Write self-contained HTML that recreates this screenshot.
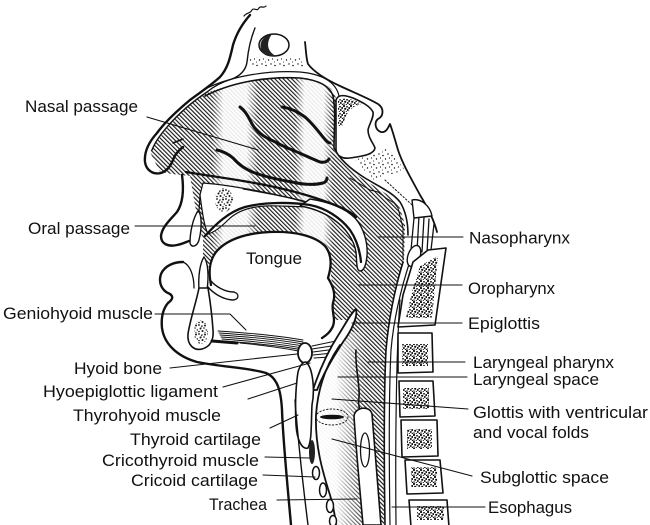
<!DOCTYPE html>
<html><head><meta charset="utf-8"><style>
html,body{margin:0;padding:0;background:#fff;}
svg{display:block;}
text{font-family:"Liberation Sans",Arial,sans-serif;font-size:16.5px;fill:#111;}
</style></head><body>
<svg width="650" height="525" viewBox="0 0 650 525" xmlns="http://www.w3.org/2000/svg">
<defs>
<pattern id="ht" patternUnits="userSpaceOnUse" width="3" height="3" patternTransform="rotate(-45)"><rect x="0" y="0" width="1.15" height="3" fill="#1a1a1a"/></pattern>
<pattern id="st" patternUnits="userSpaceOnUse" width="9" height="9"><circle cx="1" cy="1" r="0.7" fill="#111"/><circle cx="5" cy="2.5" r="0.8" fill="#111"/><circle cx="2.5" cy="5" r="0.6" fill="#111"/><circle cx="7.5" cy="6" r="0.7" fill="#111"/><circle cx="4.5" cy="8" r="0.5" fill="#111"/></pattern>
<pattern id="sd" patternUnits="userSpaceOnUse" width="9" height="9"><circle cx="1" cy="1" r="0.9" fill="#111"/><circle cx="4" cy="2" r="0.7" fill="#111"/><circle cx="7" cy="1.5" r="1" fill="#111"/><circle cx="2.5" cy="4.5" r="1" fill="#111"/><circle cx="6" cy="4" r="0.8" fill="#111"/><circle cx="8.3" cy="6" r="0.7" fill="#111"/><circle cx="1" cy="7.5" r="0.8" fill="#111"/><circle cx="4.5" cy="7" r="1" fill="#111"/><circle cx="7" cy="8.5" r="0.6" fill="#111"/><circle cx="3.3" cy="2.9" r="0.5" fill="#111"/></pattern>
<pattern id="sv" patternUnits="userSpaceOnUse" width="7" height="7"><circle cx="1" cy="1" r="1.1" fill="#111"/><circle cx="4" cy="1.8" r="0.9" fill="#111"/><circle cx="6.2" cy="3" r="1" fill="#111"/><circle cx="2.2" cy="3.8" r="1.1" fill="#111"/><circle cx="4.8" cy="5" r="1" fill="#111"/><circle cx="1" cy="6" r="0.8" fill="#111"/><circle cx="6.5" cy="6.5" r="0.7" fill="#111"/><circle cx="3.3" cy="6.6" r="0.6" fill="#111"/></pattern>
<linearGradient id="bandg" x1="0" x2="1" y1="0" y2="0">
<stop offset="0" stop-color="#fff" stop-opacity="0"/><stop offset="0.25" stop-color="#fff" stop-opacity="0.9"/><stop offset="0.75" stop-color="#fff" stop-opacity="0.9"/><stop offset="1" stop-color="#fff" stop-opacity="0"/></linearGradient>
<linearGradient id="larg" x1="0" x2="1" y1="0" y2="0">
<stop offset="0" stop-color="#fff" stop-opacity="1"/><stop offset="0.55" stop-color="#fff" stop-opacity="0.95"/><stop offset="1" stop-color="#fff" stop-opacity="0"/></linearGradient>
</defs>

<path fill="url(#ht)" d="M150,152 C158,138 175,118 195,100 L207,93 C240,78 290,74 323,83 C333,88 337,95 336,105 L334,150 C340,162 352,172 368,182 L388,195 L400,208 L405,225 L404,262 C396,285 388,320 385,360 L384,525 L337,525 C330,500 318,470 315,435 C314,400 320,370 338,340 L350,320 L332,320 L333,290 C330,270 330,255 320,245 C305,236 285,232 265,232 C240,233 222,242 213,255 L208,268 L203,262 L203,240 L198,222 L190,176 L172,174 L160,172 Z"/>
<rect x="212" y="70" width="46" height="195" fill="url(#bandg)"/>
<rect x="295" y="70" width="38" height="180" fill="url(#bandg)"/>
<rect x="300" y="332" width="66" height="193" fill="url(#larg)"/>

<g fill="none" stroke="#111" stroke-linecap="round" stroke-linejoin="round">
<path stroke-width="1.2" d="M244,16 C247,12 250,14 252,10 C254,7 257,12 259,8 C261,5 263,9 266,6"/>
<path stroke-width="2.4" d="M250,15 C242,24 236,35 233,45 C230,58 228,68 220,77 C210,86 198,94 190,100 C178,110 165,122 157,133 C148,143 144,152 145,162 C146,170 153,175 161,173 C167,171 171,165 173,160 C175,154 179,150 183,147"/>
<path stroke-width="1.4" d="M255,28 C250,40 248,52 247,62 C246,70 240,76 232,79 C222,82 213,87 207,92 C195,100 180,112 168,126 C160,135 155,142 152,150"/>
<path stroke-width="1.6" d="M205,96 C230,83 265,76 300,78 C318,80 330,86 333,96 C336,110 334,130 334,148 C340,160 352,170 365,178 C378,186 392,192 400,202 C405,210 408,222 408,235"/>
<path stroke-width="1.2" d="M203,90 C228,77 265,70 300,72 C322,74 336,82 339,96 L338,140"/>
<ellipse cx="274" cy="45" rx="15" ry="11" fill="#fff" stroke-width="1.5"/>
<path fill="#222" stroke="none" d="M272,34 C262,36 258,44 262,52 C265,56 270,57 276,56 C268,52 265,44 272,34 Z"/>
<path fill="url(#st)" stroke="none" d="M248,57 L303,58 L305,67 L250,66 Z"/>
<path stroke-width="1.8" d="M305,42 C306,50 306,58 308,64 C314,72 325,79 340,86 C355,93 368,98 378,104 C384,108 384,116 378,119 C374,122 375,130 381,132 C386,133 388,128 390,124 C393,132 395,140 398,150 C403,165 412,180 420,195 C428,208 434,220 437,232"/>
<path fill="#fff" stroke-width="1.6" d="M336,100 C338,94 345,95 353,98 C362,102 370,106 373,112 C374,118 369,124 368,130 C368,138 374,144 375,148 C374,154 365,156 350,158 C342,159 337,156 336,150 Z"/>
<path fill="url(#sv)" stroke="none" d="M338,100 C345,97 356,100 362,104 C352,106 346,112 343,125 L338,128 Z"/>
<path fill="url(#st)" stroke="none" d="M355,160 L388,148 L405,170 L372,180 Z"/>
<path stroke-width="1" stroke-dasharray="1.5 2" d="M385,180 L422,214"/>
<path stroke-width="1" d="M350,178 L360,184 L370,190 L378,192 L386,198 L394,203 L398,208 L400,216 L403,228 L403,260"/>
<path stroke-width="3" d="M240,107 C244,110 247,114 250,120 C253,127 258,133 267,138 C276,142 282,146 290,149 C300,153 310,158 320,162 C325,163 328,161 329,159"/>
<path stroke-width="3" d="M282,107 C290,108 297,111 305,117 C313,124 318,131 323,137 C326,141 328,143 330,143"/>
<path stroke-width="3" d="M217,150 C222,151 227,153 233,158 C240,166 248,171 258,174 C270,178 280,180 292,182 C305,185 315,185 323,183 C326,182 327,180 327,178"/>
<path stroke-width="1.5" d="M173,143 L183,139"/>
<path fill="#fff" stroke-width="1.2" d="M203,183 C230,185 265,192 295,199 C305,201 312,203 314,206 C300,208 280,205 265,206 C248,207 236,212 228,220 C222,226 215,232 208,234 C204,226 202,210 200,195 Z"/>
<ellipse cx="224" cy="200" rx="9" ry="12" fill="url(#sd)" stroke="none"/>
<path stroke-width="1" d="M243,189 C270,194 295,198 312,205"/>
<path fill="#fff" stroke-width="1.4" d="M310,199 C330,202 345,208 355,218 C364,228 368,243 367,256 C366,265 364,271 360,271 C356,270 357,262 356,252 C354,240 346,228 333,219 C323,212 312,208 300,206 Z"/>
<path stroke-width="2.3" d="M186,172 C210,176 240,180 265,185 C290,190 315,197 335,205 C345,209 352,213 356,217"/>
<path stroke-width="2.3" d="M205,236 C215,225 228,212 245,207 C265,202 290,202 310,205 C325,208 340,217 350,230 C357,240 360,252 361,262"/>
<path stroke-width="2.4" d="M182,175 C184,190 183,203 177,212 C170,220 162,227 161,236 C161,244 168,247 177,245 C183,244 188,241 192,240"/>
<path fill="#fff" stroke-width="1.4" d="M198,211 C202,214 202,228 199,240 C197,247 191,248 190,243 C190,232 193,218 198,211 Z"/>
<path stroke-width="1.2" d="M200,195 L199,211"/>
<path stroke-width="2.4" d="M183,262 C175,262 165,265 161,274 C158,283 162,291 170,294 C174,297 172,300 168,303 C163,309 161,318 162,328 C164,343 176,356 197,362 C222,367 250,368 266,373 C278,378 281,392 282,410 C283,440 287,480 291,525"/>
<path stroke-width="1.3" d="M183,262 C190,265 194,275 194,288"/>
<path fill="#fff" stroke-width="1.4" d="M204,257 C208,262 209,276 207,290 L199,290 C198,276 200,263 204,257 Z"/>
<path fill="#fff" stroke-width="1.6" d="M199,288 C196,303 190,320 188,334 C187,345 194,351 202,349 C210,347 214,340 213,330 C212,315 210,300 208,288 Z"/>
<ellipse cx="201" cy="332" rx="7" ry="12" fill="url(#sd)" stroke="none"/>
<path fill="#fff" stroke="none" d="M209,285 C208,270 210,260 216,252 C226,240 245,233 270,232 C295,231 315,236 325,246 C333,256 331,268 328,278 C333,286 336,294 333,303 C331,311 336,318 333,326 C330,333 325,336 322,338 L300,342 L245,332 Z"/>
<path stroke-width="2.3" d="M211,285 C208,270 210,260 216,252 C226,240 245,233 270,232 C295,231 315,236 325,246 C333,256 331,268 328,278 C333,286 336,294 333,303 C331,311 336,318 333,326 C330,333 325,336 322,338"/>
<path stroke-width="1.4" d="M210,280 C216,287 225,292 234,292 C240,294 239,300 232,300 C222,299 213,293 208,287"/>
<g stroke-width="0.9">
<path d="M218,331 C250,333 280,336 303,340"/>
<path d="M219,333 C250,335 280,338 303,342"/>
<path d="M220,335 C250,337 280,340 303,344"/>
<path d="M221,337 C250,339 280,342 303,346"/>
<path d="M222,339 C250,341 280,344 303,348"/>
<path d="M223,341 C252,343 282,346 303,350"/>
<path d="M240,343 C260,345 285,348 303,352"/>
</g>
<path stroke-width="3" d="M212,341 L237,343"/>
<g stroke-width="1"><path d="M312,346 L336,341"/><path d="M312,349 L338,345"/><path d="M313,352 L336,349"/><path d="M313,355 L333,353"/><path d="M314,358 L330,357"/></g>
<ellipse cx="305" cy="353" rx="7" ry="10" fill="#fff" stroke-width="1.8"/>
<path fill="#fff" stroke-width="1.8" d="M356,309 C358,316 352,330 343,342 C334,356 324,372 317,390 L313,390 C320,368 330,348 339,334 C346,323 351,313 356,309 Z"/>
<path stroke-width="1.8" d="M340,345 C328,362 318,385 316,415 C315,445 322,470 330,495 C333,505 335,515 336,525"/>
<path stroke-width="1.6" d="M356,350 C355,362 358,375 359,390 C360,398 357,402 360,410"/>
<path fill="#fff" stroke-width="1.6" d="M306,362 C313,368 315,390 312,405 C311,425 312,440 308,448 C302,450 297,440 296,425 C295,405 296,385 298,372 C300,365 303,362 306,362 Z"/>
<path stroke-width="1.4" d="M295,400 C298,440 303,485 308,525"/>
<ellipse cx="312" cy="452" rx="3" ry="12" fill="#222" stroke="none"/>
<ellipse cx="316" cy="473" rx="3.5" ry="6.5" fill="#fff" stroke-width="1.5"/>
<ellipse cx="323" cy="490" rx="3.5" ry="7" fill="#fff" stroke-width="1.5"/>
<ellipse cx="330" cy="506" rx="3.5" ry="6.5" fill="#fff" stroke-width="1.5"/>
<ellipse cx="333" cy="521" rx="3.5" ry="5.5" fill="#fff" stroke-width="1.5"/>
<ellipse cx="332" cy="417" rx="16" ry="8" stroke-width="0.9" stroke-dasharray="1.5 2"/>
<ellipse cx="332" cy="417" rx="12" ry="2.3" fill="#111" stroke="none"/>
<path fill="#fff" stroke-width="1.6" d="M354,416 C355,407 370,405 372,414 C374,440 377,480 381,525 L363,525 C360,490 356,450 354,416 Z"/>
<ellipse cx="365" cy="450" rx="4.5" ry="17" stroke-width="1.3"/>
<path stroke-width="1.6" d="M403,262 C396,285 389,315 386,350 C384,390 384,460 385,525"/>
<path stroke-width="1.2" d="M411,258 C402,285 394,315 391,350 C389,390 389,460 390,525"/>
<path stroke-width="1.2" d="M400,300 C397,340 395,420 396,525"/>
<g stroke-width="1.3"><path d="M414,218 L411,250"/><path d="M419,216 L417,251"/><path d="M424,217 L422,252"/><path d="M429,219 L427,252"/><path d="M434,224 L431,250"/></g>
<path fill="#fff" stroke-width="1.4" d="M412,200 C420,198 430,205 432,216 L414,218 Z"/>
<ellipse cx="414" cy="256" rx="6" ry="11" transform="rotate(20 414 256)" fill="#fff" stroke-width="1.4"/>
<g fill="#fff" stroke-width="1.6">
<path d="M413,262 L428,250 L446,248 L440,290 L435,325 L398,327 L403,295 Z"/>
<path d="M398,333 L432,333 L433,372 L398,373 Z"/>
<path d="M399,381 L433,381 L435,416 L400,417 Z"/>
<path d="M401,420 L437,420 L438,456 L402,457 Z"/>
<path d="M405,460 L440,460 L443,493 L407,494 Z"/>
<path d="M409,500 L447,500 L449,527 L411,527 Z"/>
</g>
<g fill="url(#sv)" stroke="none">
<path d="M420,266 L438,256 L432,318 L406,318 L412,292 Z"/>
<rect x="402" y="344" width="26" height="22"/>
<rect x="403" y="388" width="26" height="21"/>
<rect x="407" y="429" width="25" height="20"/>
<rect x="411" y="467" width="26" height="20"/>
<rect x="417" y="506" width="27" height="14"/>
</g>
<g stroke-width="1.1">
<path d="M147,117 L258,150"/>
<path d="M135,226 L255,226"/>
<path d="M155,314 L230,314 L246,330"/>
<path d="M170,368 L297,354"/>
<path d="M223,387 L310,363"/>
<path d="M248,399 L297,383"/>
<path d="M270,428 L298,415"/>
<path d="M265,457 L310,458"/>
<path d="M263,475 L315,477"/>
<path d="M277,500 L357,499"/>
<path d="M378,237 L463,237"/>
<path d="M358,285 L462,285"/>
<path d="M352,323 L462,323"/>
<path d="M368,362 L465,362"/>
<path d="M338,377 L467,377"/>
<path d="M332,399 L468,409"/>
<path d="M332,439 L472,476"/>
<path d="M392,507 L485,507"/>
</g>
</g>

<text x="25" y="112" textLength="113" lengthAdjust="spacingAndGlyphs">Nasal passage</text>
<text x="28" y="234" textLength="102" lengthAdjust="spacingAndGlyphs">Oral passage</text>
<text x="246" y="264" textLength="56" lengthAdjust="spacingAndGlyphs">Tongue</text>
<text x="3" y="319" textLength="150" lengthAdjust="spacingAndGlyphs">Geniohyoid muscle</text>
<text x="74" y="374" textLength="88" lengthAdjust="spacingAndGlyphs">Hyoid bone</text>
<text x="43" y="397" textLength="175" lengthAdjust="spacingAndGlyphs">Hyoepiglottic ligament</text>
<text x="73" y="421" textLength="148" lengthAdjust="spacingAndGlyphs">Thyrohyoid muscle</text>
<text x="130" y="445" textLength="131" lengthAdjust="spacingAndGlyphs">Thyroid cartilage</text>
<text x="102" y="466" textLength="157" lengthAdjust="spacingAndGlyphs">Cricothyroid muscle</text>
<text x="131" y="486" textLength="127" lengthAdjust="spacingAndGlyphs">Cricoid cartilage</text>
<text x="209" y="510" textLength="58" lengthAdjust="spacingAndGlyphs">Trachea</text>
<text x="469" y="243.5" textLength="101" lengthAdjust="spacingAndGlyphs">Nasopharynx</text>
<text x="468" y="294" textLength="87" lengthAdjust="spacingAndGlyphs">Oropharynx</text>
<text x="468" y="329" textLength="72" lengthAdjust="spacingAndGlyphs">Epiglottis</text>
<text x="473" y="368" textLength="141" lengthAdjust="spacingAndGlyphs">Laryngeal pharynx</text>
<text x="473" y="385" textLength="126" lengthAdjust="spacingAndGlyphs">Laryngeal space</text>
<text x="473" y="418" textLength="175" lengthAdjust="spacingAndGlyphs">Glottis with ventricular</text>
<text x="473" y="438" textLength="116" lengthAdjust="spacingAndGlyphs">and vocal folds</text>
<text x="480" y="483" textLength="129" lengthAdjust="spacingAndGlyphs">Subglottic space</text>
<text x="488" y="513" textLength="84" lengthAdjust="spacingAndGlyphs">Esophagus</text>
</svg>
</body></html>
